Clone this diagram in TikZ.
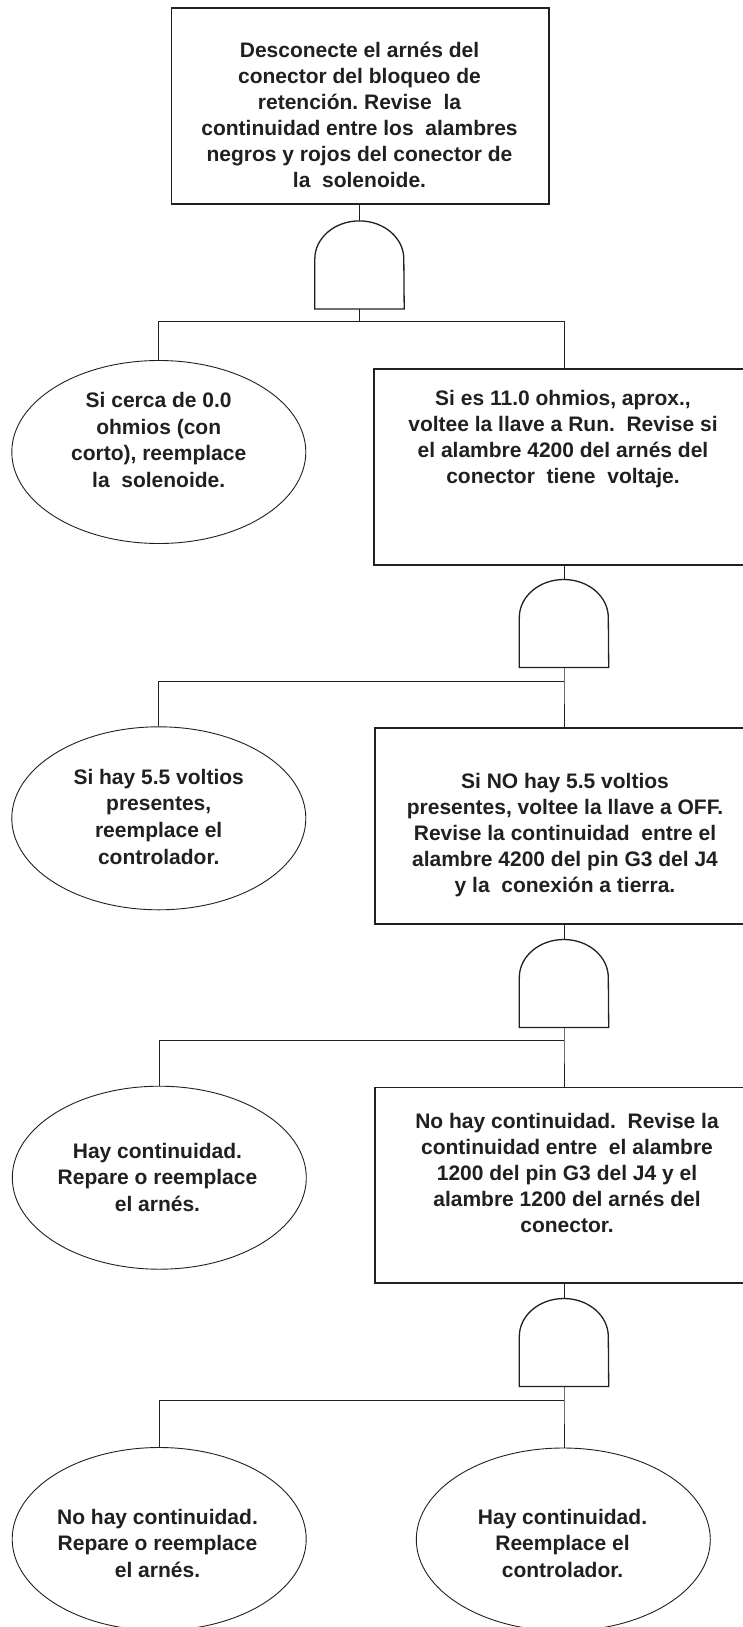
\documentclass[tikz,border=0pt]{standalone}
\usepackage{fontspec}
\setmainfont{Liberation Sans}
\usetikzlibrary{shapes.geometric}
\definecolor{ink}{RGB}{35,31,32}
\newcommand\gateshape[1]{\draw[gateline] (#1.south west) -- ([yshift=50pt]#1.south west) arc[start angle=180, end angle=0, x radius=44.5pt, y radius=38pt] -- (#1.south east) -- cycle;}
\begin{document}
\frenchspacing
\begin{tikzpicture}[x=1pt,y=-1pt,
  boxnode/.style={draw=ink, line width=1.6pt, minimum width=380pt, minimum height=196pt, inner sep=0pt, anchor=north west},
  ovalnode/.style={draw=ink, ellipse, line width=0.9pt, minimum width=294pt, minimum height=183pt, inner sep=0pt},
  gatenode/.style={minimum width=89pt, minimum height=88pt, inner sep=0pt},
  gateline/.style={draw=ink, line width=1.3pt},
  conn/.style={draw=ink, line width=0.9pt},
  txt/.style={align=center, font=\bfseries\fontsize{21}{26}\selectfont, text=ink, inner sep=0pt},
  otxt/.style={align=center, font=\bfseries\fontsize{21}{26.7}\selectfont, text=ink, inner sep=0pt}]
\fill[white] (0,0) rectangle (742,1627);
\useasboundingbox (0,0) rectangle (742,1627);

% boxes
\node[boxnode, minimum width=377.3pt] (b1) at (170.7,7) {};
\node[boxnode] (b2) at (373,368) {};
\node[boxnode] (b3) at (374,727) {};
\node[boxnode, minimum height=195.5pt] (b4) at (374,1086.5) {};

% ellipses
\node[ovalnode] (e1) at (158.8,452) {};
\node[ovalnode] (e2) at (158.8,818.3) {};
\node[ovalnode] (e3) at (159.3,1177.7) {};
\node[ovalnode] (e4) at (159.2,1539) {};
\node[ovalnode] (e5) at (563.3,1539.5) {};

% gates
\node[gatenode] (g1) at (359.5,264.7) {};
\node[gatenode] (g2) at (564,623.3) {};
\node[gatenode] (g3) at (564,983.3) {};
\node[gatenode] (g4) at (564,1342.3) {};
\gateshape{g1}
\gateshape{g2}
\gateshape{g3}
\gateshape{g4}

% junctions
\coordinate (j1) at (359.5,321.7);
\coordinate (j2) at (564,681);
\coordinate (j3) at (564,1040.5);
\coordinate (j4) at (564,1400);

% connectors
\draw[conn] (g1.north |- b1.south) -- (g1.north);
\draw[conn] (g1.south) -- (j1);
\draw[conn] (e1.north) -- (e1.north |- j1) -- (g2 |- j1) -- (g2 |- b2.north);

\draw[conn] (g2 |- b2.south) -- (g2.north);
\draw[conn] (g2.south) -- (j2) -- (g2 |- b3.north);
\draw[conn] (e2.north) -- (e2.north |- j2) -- (j2);

\draw[conn] (g3 |- b3.south) -- (g3.north);
\draw[conn] (g3.south) -- (j3) -- (g3 |- b4.north);
\draw[conn] (e3.north) -- (e3.north |- j3) -- (j3);

\draw[conn] (g4 |- b4.south) -- (g4.north);
\draw[conn] (g4.south) -- (j4) -- (g4 |- e5.north);
\draw[conn] (e4.north) -- (e4.north |- j4) -- (j4);

% texts
\node[txt] (t1) at (359.5,117.3) {\strut Desconecte el arnés del\\\strut conector del bloqueo de\\\strut retención. Revise\ \ la\\\strut continuidad entre los\ \ alambres\\\strut negros y rojos del conector de\\\strut la\ \ solenoide.};
\node[txt] (t2) at (563,439.3) {\strut Si es 11.0 ohmios, aprox.,\\\strut voltee la llave a Run.\ \ Revise si\\\strut el alambre 4200 del arnés del\\\strut conector\ \ tiene\ \ voltaje.};
\node[txt] (t3) at (565,834.8) {\strut Si NO hay 5.5 voltios\\\strut presentes, voltee la llave a OFF.\\\strut Revise la continuidad\ \ entre el\\\strut alambre 4200 del pin G3 del J4\\\strut y la\ \ conexión a tierra.};
\node[txt] (t4) at (567,1175.3) {\strut No hay continuidad.\ \ Revise la\\\strut continuidad entre\ \ el alambre\\\strut 1200 del pin G3 del J4 y el\\\strut alambre 1200 del arnés del\\\strut conector.};

\node[otxt] (o1) at (158.7,442.2) {\strut Si cerca de 0.0\\\strut ohmios (con\\\strut corto), reemplace\\\strut la\ \ solenoide.};
\node[otxt] (o2) at (158.7,818.9) {\strut Si hay 5.5 voltios\\\strut presentes,\\\strut reemplace el\\\strut controlador.};
\node[otxt] (o3) at (157.5,1179.5) {\strut Hay continuidad.\\\strut Repare o reemplace\\\strut el arnés.};
\node[otxt] (o4) at (157.5,1545.5) {\strut No hay continuidad.\\\strut Repare o reemplace\\\strut el arnés.};
\node[otxt] (o5) at (562.5,1545.5) {\strut Hay continuidad.\\\strut Reemplace el\\\strut controlador.};
\end{tikzpicture}
\end{document}
